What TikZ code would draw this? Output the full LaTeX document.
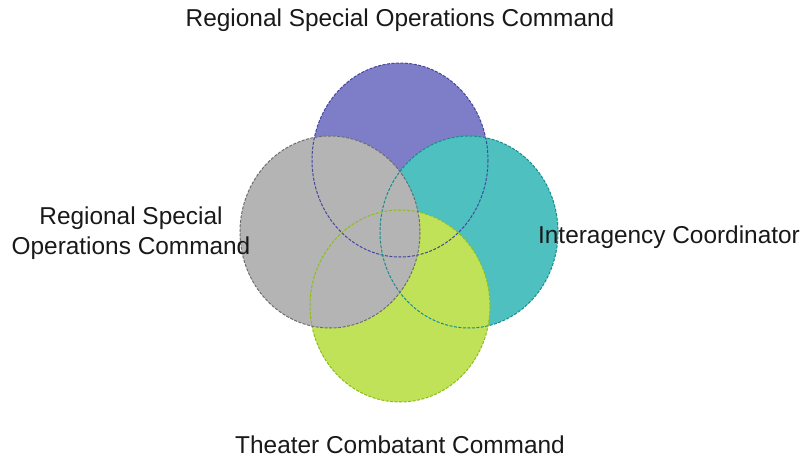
\documentclass[tikz,border=0pt]{standalone}
\usepackage{fontspec}
\setmainfont{Liberation Sans}
\usepackage{tikz}

\definecolor{purplefill}{RGB}{125,125,200}
\definecolor{purpleline}{RGB}{70,70,160}
\definecolor{tealfill}{RGB}{78,192,192}
\definecolor{tealline}{RGB}{25,140,140}
\definecolor{greenfill}{RGB}{192,226,88}
\definecolor{greenline}{RGB}{140,190,20}
\definecolor{grayfill}{RGB}{180,180,180}
\definecolor{grayline}{RGB}{110,110,110}

\begin{document}
\begin{tikzpicture}[x=1pt, y=-1pt,
		set_style/.style={draw=none},
		rim_style/.style={line width=1pt, dash pattern=on 3pt off 1.5pt},
		label_style/.style={font=\fontsize{24.4}{30}\selectfont, align=center, text=black!90}]

		\useasboundingbox (0,0) rectangle (805,463);
		\fill[white] (0,0) rectangle (805,463);

		\fill[set_style, fill=purplefill] (400,160) ellipse [x radius=88, y radius=97];
		\fill[set_style, fill=tealfill]   (469,232) ellipse [x radius=89, y radius=96];
		\fill[set_style, fill=greenfill]  (400,306) ellipse [x radius=90, y radius=96];
		\fill[set_style, fill=grayfill]   (330,232) ellipse [x radius=90, y radius=96];

		\draw[rim_style, draw=purpleline] (400,160) ellipse [x radius=88, y radius=97];
		\draw[rim_style, draw=tealline]   (469,232) ellipse [x radius=89, y radius=96];
		\draw[rim_style, draw=greenline]  (400,306) ellipse [x radius=90, y radius=96];
		\draw[rim_style, draw=grayline]   (330,232) ellipse [x radius=90, y radius=96];

		\node[label_style] (top_label) at (400,20) {Regional Special Operations Command};
		\node[label_style] (left_label) at (131,233) {Regional Special\\Operations Command};
		\node[label_style] (right_label) at (669,237) {Interagency Coordinator};
		\node[label_style] (bottom_label) at (400,445) {Theater Combatant Command};
		\end{tikzpicture}
\end{document}
